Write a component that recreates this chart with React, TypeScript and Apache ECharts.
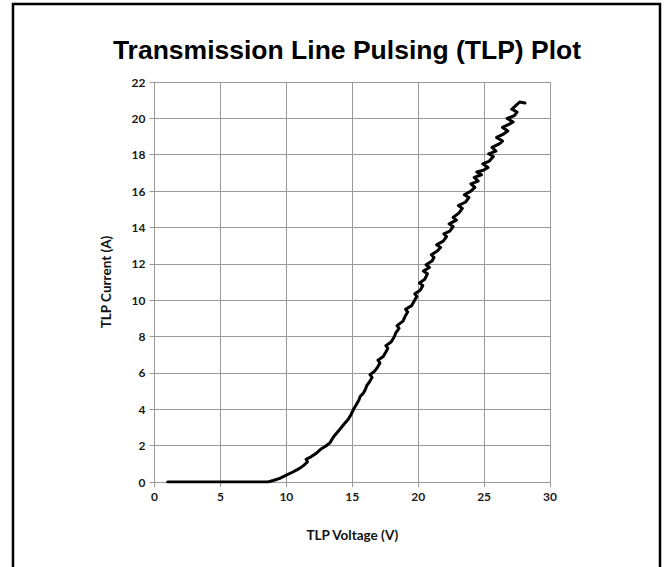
import React, { useEffect, useRef } from "react";
import * as echarts from "echarts";

const titleText = "Transmission Line Pulsing (TLP) Plot";
const xAxisName = "TLP Voltage (V)";
const yAxisName = "TLP Current (A)";

const voltage = [
  1.0, 3.0, 5.0, 7.0, 8.6, 9.0, 9.5, 10.0, 10.5, 11.0, 11.3, 11.6, 11.5, 11.9, 12.3, 12.6, 13.0, 13.3, 13.6, 14.0, 14.4, 14.7, 14.9, 15.1,
  15.3, 15.5, 15.6, 15.85, 16.0, 16.1, 16.3, 16.5, 16.35, 16.7, 16.95, 17.1, 16.95, 17.35, 17.55, 17.7, 17.55, 17.95, 18.2, 18.3, 18.55,
  18.4, 18.85, 19.0, 19.2, 19.05, 19.5, 19.7,
  19.9, 19.75, 20.15, 20.35, 20.1, 20.5, 20.7, 20.4, 20.85, 20.6, 21.05, 21.2, 21.0, 21.45, 21.7, 21.4, 21.9, 22.15, 21.95, 22.4,
  22.65, 22.35, 22.9, 22.65, 23.1, 23.35, 23.05, 23.6, 23.85, 23.5, 24.0, 24.3, 24.0, 24.55, 24.25, 24.8, 24.45, 24.95, 25.3, 24.9,
  25.4, 25.7, 25.35, 25.9, 25.6, 26.15, 26.4, 25.95, 26.5, 26.8, 26.4, 26.95, 27.2, 26.75, 27.3, 27.5, 27.1, 27.4, 27.7, 28.1,
];
const current = [
  0, 0, 0, 0, 0, 0.08, 0.2, 0.38, 0.55, 0.75, 0.9, 1.1, 1.25, 1.4, 1.6, 1.8, 1.98, 2.15, 2.5, 2.85, 3.2, 3.45, 3.7, 4.0,
  4.25, 4.5, 4.7, 4.9, 5.1, 5.3, 5.5, 5.75, 5.9, 6.1, 6.35, 6.55, 6.7, 6.9, 7.15, 7.35, 7.5, 7.7, 8.0, 8.2, 8.45,
  8.6, 8.85, 9.1, 9.35, 9.5, 9.7, 9.95,
  10.2, 10.35, 10.55, 10.8, 10.95, 11.15, 11.45, 11.6, 11.8, 11.95, 12.15, 12.35, 12.5, 12.7, 12.9, 13.05, 13.25, 13.5, 13.65, 13.8,
  14.05, 14.2, 14.4, 14.55, 14.8, 15.05, 15.2, 15.4, 15.65, 15.8, 16.0, 16.2, 16.4, 16.55, 16.75, 16.9, 17.05, 17.15, 17.3, 17.5,
  17.65, 17.9, 18.05, 18.2, 18.4, 18.6, 18.75, 18.95, 19.15, 19.3, 19.5, 19.7, 19.8, 20.0, 20.15, 20.35, 20.5, 20.7, 20.9, 20.85,
];

export default function App() {
  const ref = useRef<HTMLDivElement>(null);
  useEffect(() => {
    if (!ref.current) return;
    const chart = echarts.init(ref.current, null, { renderer: "svg" });
    const data = voltage.map((v, k) => [v, current[k]]);
    const tickFont = { fontFamily: "Lato", fontSize: 12, fontWeight: "bold" as const, color: "#1a1a1a" };
    const nameFont = { fontFamily: "Lato", fontWeight: "bold" as const, fontSize: 13.5, color: "#111" };
    chart.setOption({
      animation: false,
      backgroundColor: "#ffffff",
      title: {
        text: titleText,
        left: 342,
        top: 31,
        textAlign: "center",
        textStyle: { fontFamily: "Liberation Sans", fontWeight: "bold", fontSize: 26.5, color: "#000" },
      },
      graphic: [
        {
          type: "rect",
          shape: { x: 13, y: 4, width: 647, height: 600 },
          style: { fill: "none", stroke: "#000", lineWidth: 2.5 },
          silent: true,
        },
      ],
      grid: { left: 154.5, right: 117, top: 82, bottom: 85, containLabel: false },
      xAxis: {
        type: "value",
        min: 0,
        max: 30,
        interval: 5,
        name: xAxisName,
        nameLocation: "middle",
        nameGap: 46,
        nameTextStyle: nameFont,
        axisLine: { show: true, lineStyle: { color: "#999", width: 1 } },
        axisTick: { show: true, length: 5, lineStyle: { color: "#999" } },
        axisLabel: { ...tickFont, margin: 8 },
        splitLine: { show: true, lineStyle: { color: "#999", width: 1 } },
      },
      yAxis: {
        type: "value",
        min: 0,
        max: 22,
        interval: 2,
        name: yAxisName,
        nameLocation: "middle",
        nameGap: 42,
        nameRotate: 90,
        nameTextStyle: nameFont,
        axisLine: { show: true, lineStyle: { color: "#999", width: 1 } },
        axisTick: { show: true, length: 5, lineStyle: { color: "#999" } },
        axisLabel: { ...tickFont, margin: 9 },
        splitLine: { show: true, lineStyle: { color: "#999", width: 1 } },
      },
      series: [
        {
          type: "line",
          data,
          showSymbol: false,
          symbol: "none",
          lineStyle: { color: "#000", width: 3, join: "round", cap: "round" },
          smooth: false,
        },
      ],
    });
    return () => chart.dispose();
  }, []);
  return (
    <div style={{ position: "absolute", left: 0, top: 0, width: 667, height: 567, background: "#fff" }}>
      <div ref={ref} style={{ width: 667, height: 567 }} />
    </div>
  );
}
